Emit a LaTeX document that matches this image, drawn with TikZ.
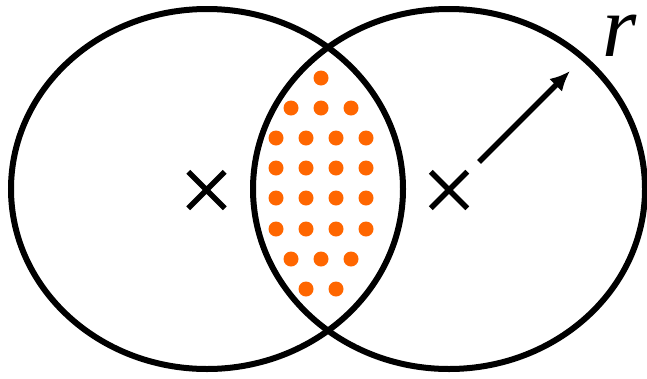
\documentclass[tikz,border=0pt]{standalone}
\usepackage{fontspec}
\setmainfont{Liberation Serif}
\usepackage{xcolor}
\usetikzlibrary{arrows.meta,shapes.misc}

\definecolor{dotorange}{HTML}{FF6600}

\begin{document}
\begin{tikzpicture}[
  x=1pt,y=-1pt,
  ring/.style={draw,line width=6pt},
  mark x/.style={draw,cross out,line width=5.5pt,minimum size=31pt,inner sep=0pt},
  dot/.style={fill=dotorange},
  >={Latex[length=20pt,width=18pt]}]
  \useasboundingbox (0,0) rectangle (647,378);
  \coordinate (cL) at (207,189);
  \coordinate (cR) at (449,189);
  % the two circles
  \draw[ring] (cL) ellipse [x radius=196,y radius=180];
  \draw[ring] (cR) ellipse [x radius=196,y radius=180];
  % centres
  \node (xL) [mark x] at (206.5,190) {};
  \node (xR) [mark x] at (449,190) {};
  % dots in the overlap
  \foreach \y/\xs in {78/{321},108/{291,321,351},138/{276,306,336,366},168/{276,306,336,366},
      198/{276,306,336,366},229/{276,306,336,366},259/{291,321,351},289/{306,336}}
    \foreach \x in \xs \fill[dot] (\x,\y) circle [radius=7.5];
  % radius
  \coordinate (r0) at (479,162);
  \coordinate (r1) at (570,71);
  \draw[->,line width=5.5pt] (r0) -- (r1);
  \node (rlab) [inner sep=0pt] at (620,36) {\fontsize{88}{88}\selectfont\itshape r};
\end{tikzpicture}
\end{document}
